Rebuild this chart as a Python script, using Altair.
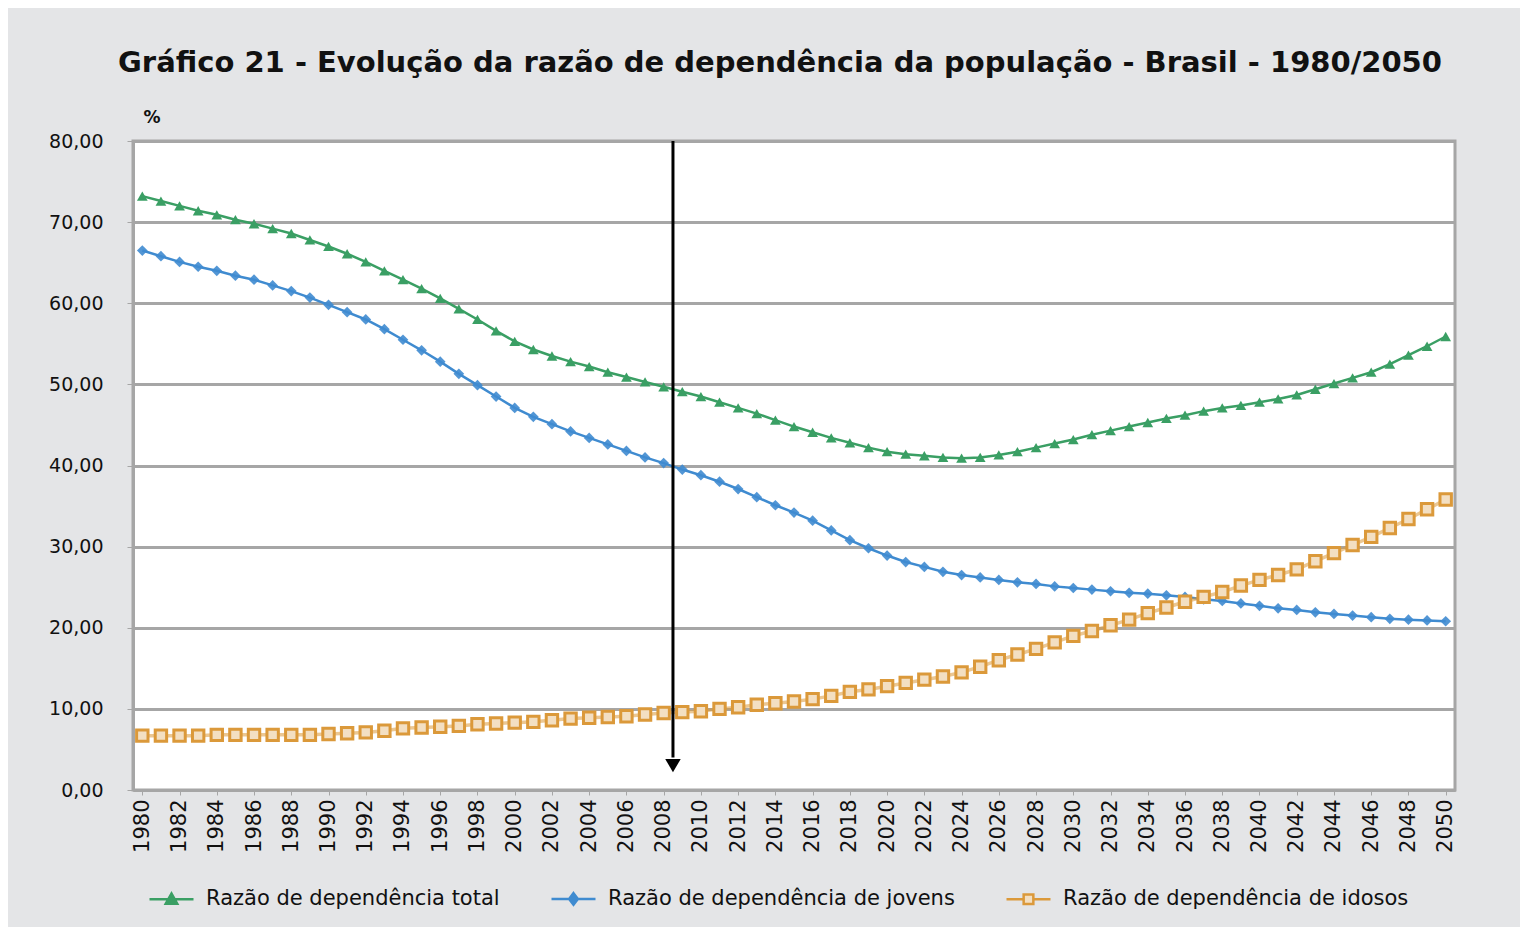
import altair as alt
import pandas as pd

years = list(range(1980, 2051))

total = [73.2, 72.6, 72.0, 71.4, 70.9, 70.3, 69.8, 69.2, 68.6, 67.8,
         67.0, 66.1, 65.1, 64.0, 62.9, 61.8, 60.6, 59.3, 58.0, 56.6,
         55.3, 54.3, 53.5, 52.8, 52.2, 51.5, 50.9, 50.3, 49.7, 49.1,
         48.5, 47.8, 47.1, 46.4, 45.6, 44.8, 44.1, 43.4, 42.8, 42.2,
         41.7, 41.4, 41.2, 41.0, 40.9, 41.0, 41.3, 41.7, 42.2, 42.7,
         43.2, 43.8, 44.3, 44.8, 45.3, 45.8, 46.2, 46.7, 47.1, 47.4,
         47.8, 48.2, 48.7, 49.4, 50.1, 50.8, 51.5, 52.5, 53.6, 54.7,
         55.9]

jovens = [66.5, 65.8, 65.1, 64.5, 64.0, 63.4, 62.9, 62.2, 61.5, 60.7,
          59.8, 58.9, 58.0, 56.8, 55.5, 54.2, 52.8, 51.3, 49.9, 48.5,
          47.1, 46.0, 45.1, 44.2, 43.4, 42.6, 41.8, 41.0, 40.3, 39.5,
          38.8, 38.0, 37.1, 36.1, 35.1, 34.2, 33.2, 32.0, 30.8, 29.8,
          28.9, 28.1, 27.5, 26.9, 26.5, 26.2, 25.9, 25.6, 25.4, 25.1,
          24.9, 24.7, 24.5, 24.3, 24.2, 24.0, 23.8, 23.5, 23.3, 23.0,
          22.7, 22.4, 22.2, 21.9, 21.7, 21.5, 21.3, 21.1, 21.0, 20.9,
          20.8]

idosos = [6.7, 6.7, 6.7, 6.7, 6.8, 6.8, 6.8, 6.8, 6.8, 6.8,
          6.9, 7.0, 7.1, 7.3, 7.6, 7.7, 7.8, 7.9, 8.1, 8.2,
          8.3, 8.4, 8.6, 8.8, 8.9, 9.0, 9.1, 9.3, 9.5, 9.6,
          9.7, 10.0, 10.2, 10.5, 10.7, 10.9, 11.2, 11.6, 12.1, 12.4,
          12.8, 13.2, 13.6, 14.0, 14.5, 15.2, 16.0, 16.7, 17.4, 18.2,
          19.0, 19.6, 20.3, 21.0, 21.8, 22.5, 23.2, 23.8, 24.4, 25.2,
          25.9, 26.5, 27.2, 28.2, 29.2, 30.2, 31.2, 32.3, 33.4, 34.6,
          35.8]

series_names = ["Razão de dependência total",
                "Razão de dependência de jovens",
                "Razão de dependência de idosos"]
series_colors = ["#3a9f64", "#3f8bd0", "#db993a"]
fill_colors = ["#3a9f64", "#3f8bd0", "#f3dfc2"]
legend_paths = [
    "M-1,0H1M-0.26,0.2L0,-0.26L0.26,0.2Z",
    "M-1,0H1M0,-0.26L0.2,0L0,0.26L-0.2,0Z",
    "M-1,0H-0.22M0.22,0H1M-0.22,-0.22H0.22V0.22H-0.22Z",
]
year_ticks = list(range(1980, 2051, 2))
y_ticks = [0, 10, 20, 30, 40, 50, 60, 70, 80]
title_text = "Gráfico 21 - Evolução da razão de dependência da população - Brasil - 1980/2050"
arrow_year = [2008.5]
arrow_top = [80]
arrow_bottom = [4.0]
arrow_head = [3.0]

rows = []
for name, vals in zip(series_names, [total, jovens, idosos]):
    for yr, v in zip(years, vals):
        rows.append({"ano": yr, "valor": v, "serie": name})
df = pd.DataFrame(rows)

arrow_df = pd.DataFrame({"ano": arrow_year, "valor": arrow_top,
                         "bottom": arrow_bottom, "head": arrow_head})

x_scale = alt.Scale(domain=[1979.5, 2050.5], nice=False, zero=False)
y_scale = alt.Scale(domain=[0, 80], nice=False)
x_axis = alt.Axis(values=year_ticks, format="d", labelAngle=-90,
                  grid=False, title=None, tickSize=5, labelPadding=4,
                  labelFont="DejaVu Sans", labelFontSize=21,
                  labelColor="#111111", tickColor="#a6a6a6",
                  domainColor="#a6a6a6", domainWidth=3,
                  labelOverlap=False, labelFlush=False, labelBound=False)
y_axis = alt.Axis(values=y_ticks,
                  labelExpr="replace(format(datum.value, '.2f'), '.', ',')",
                  title="%", titleAngle=0, titleX=10, titleY=-24,
                  titleAlign="left", titleBaseline="middle",
                  titleFont="DejaVu Sans", titleFontSize=17,
                  titleFontWeight="bold", titleColor="#111111",
                  labelFont="DejaVu Sans", labelFontSize=19,
                  labelColor="#111111", labelPadding=24,
                  tickSize=6, tickColor="#a6a6a6",
                  gridColor="#a6a6a6", gridWidth=3,
                  domainColor="#a6a6a6", domainWidth=3)

def xe(field="ano"):
    return alt.X(f"{field}:Q", scale=x_scale, axis=x_axis)

def ye(field="valor"):
    return alt.Y(f"{field}:Q", scale=y_scale, axis=y_axis)

base = alt.Chart(df)

layers = []
# lines
for name, col, w, op in zip(series_names, series_colors, [2.5, 2.5, 3.5], [1, 1, 0.55]):
    layers.append(
        base.transform_filter(alt.datum.serie == name)
        .mark_line(color=col, strokeWidth=w, opacity=op)
        .encode(x=xe(), y=ye())
    )
# markers
layers.append(
    base.transform_filter(alt.datum.serie == series_names[0])
    .mark_point(shape="triangle-up", filled=True, color=series_colors[0], size=115, opacity=1)
    .encode(x=xe(), y=ye())
)
layers.append(
    base.transform_filter(alt.datum.serie == series_names[1])
    .mark_point(shape="diamond", filled=True, color=series_colors[1], size=115, opacity=0.9)
    .encode(x=xe(), y=ye())
)
layers.append(
    base.transform_filter(alt.datum.serie == series_names[2])
    .mark_point(shape="square", filled=True, fill=fill_colors[2], stroke=series_colors[2],
                strokeWidth=3, size=130, opacity=1)
    .encode(x=xe(), y=ye())
)
# legend-only layer (no data drawn)
legend_layer = (
    base.transform_filter(alt.datum.valor < -1000)
    .mark_point(filled=True, size=1936, strokeWidth=2.5, opacity=1)
    .encode(
        x=xe(), y=ye(),
        fill=alt.Fill("serie:N", scale=alt.Scale(domain=series_names, range=fill_colors),
                      legend=alt.Legend(title=None)),
        stroke=alt.Stroke("serie:N", scale=alt.Scale(domain=series_names, range=series_colors),
                          legend=alt.Legend(title=None)),
        shape=alt.Shape("serie:N", scale=alt.Scale(domain=series_names, range=legend_paths),
                        legend=alt.Legend(title=None, orient="none", direction="horizontal",
                                          legendX=15, legendY=734,
                                          symbolSize=1936, symbolStrokeWidth=2.5,
                                          labelFont="DejaVu Sans", labelFontSize=21,
                                          labelColor="#111111", labelOffset=11,
                                          columnPadding=46, labelLimit=500)),
    )
)
layers.append(legend_layer)

# arrow
arrow_base = alt.Chart(arrow_df)
layers.append(
    arrow_base.mark_rule(color="black", strokeWidth=3)
    .encode(x=xe(), y=ye(), y2="bottom:Q")
)
layers.append(
    arrow_base.mark_point(shape="triangle-down", filled=True, color="black", size=240, opacity=1)
    .encode(x=xe(), y=ye("head"))
)

chart = (
    alt.layer(*layers)
    .properties(
        width=1322, height=649,
        autosize=alt.AutoSizeParams(type="none"),
        padding={"left": 125, "top": 133, "right": 65, "bottom": 137},
        title=alt.TitleParams(title_text, font="DejaVu Sans", fontSize=29,
                              fontWeight="bold", color="#111111",
                              anchor="middle", offset=30, dx=-14),
    )
    .configure(background="#e4e5e7")
    .configure_view(fill="white", stroke="#a6a6a6", strokeWidth=3)
)

chart.save("out.html", embed_options={"renderer": "svg", "actions": False})
